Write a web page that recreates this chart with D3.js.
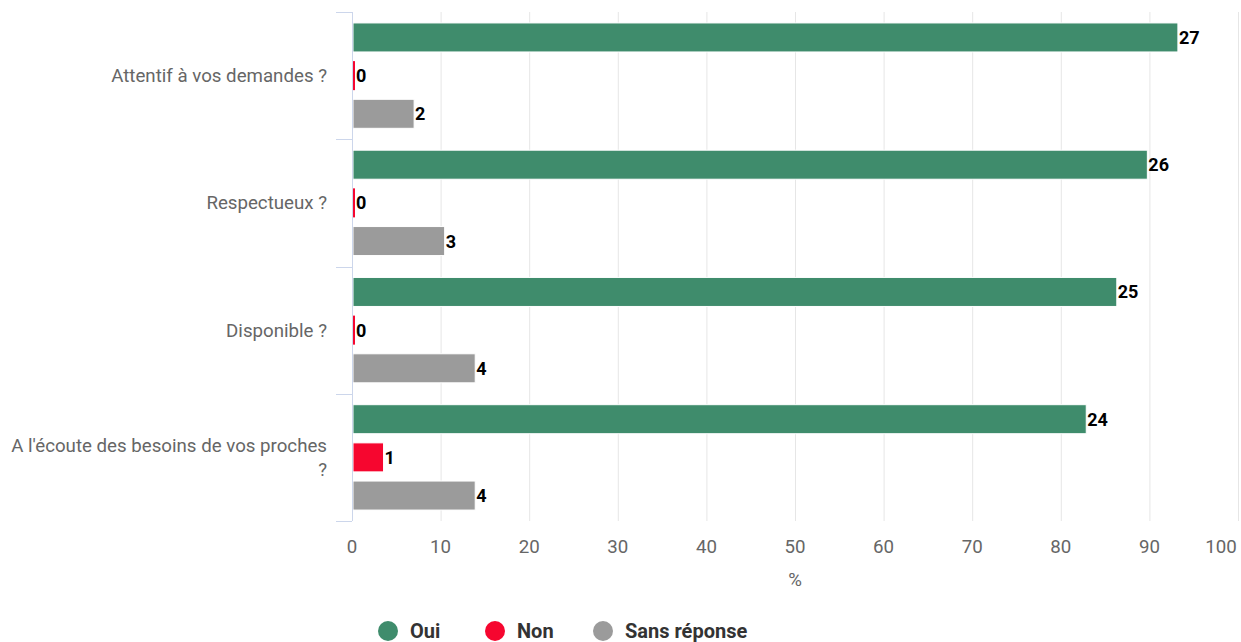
<!DOCTYPE html>
<html>
<head>
<meta charset="utf-8">
<script src="https://cdn.jsdelivr.net/npm/d3@7"></script>
<style>
  html, body { margin: 0; padding: 0; background: #fff; }
  svg { display: block; font-family: Roboto, "Noto Sans", sans-serif; }
</style>
</head>
<body>
<svg id="chart" width="1241" height="642"></svg>
<script>
// Survey answers (number of respondents) per question
const categories = [
  "Attentif à vos demandes ?",
  "Respectueux ?",
  "Disponible ?",
  "A l'écoute des besoins de vos proches ?"
];
const seriesNames = ["Oui", "Non", "Sans réponse"];
const seriesColors = ["#3f8c6c", "#f6062f", "#9b9b9b"];
const oui = [27, 26, 25, 24];
const non = [0, 0, 0, 1];
const sansReponse = [2, 3, 4, 4];
const xTicks = [0, 10, 20, 30, 40, 50, 60, 70, 80, 90, 100];

const seriesValues = [oui, non, sansReponse];

const svg = d3.select("#chart");
const plotLeft = 352, plotRight = 1238, plotTop = 12, plotBottom = 521;

const x = d3.scaleLinear().domain([0, 100]).range([plotLeft, plotRight]);
const y = d3.scaleBand().domain(categories).range([plotTop, plotBottom]).paddingInner(0).paddingOuter(0);
const slot = y.bandwidth() * 0.3;
const barH = slot * 0.76;
const groupOffset = (y.bandwidth() - 3 * slot) / 2;
const barY = si => groupOffset + si * slot + (slot - barH) / 2;

// Vertical grid lines
svg.append("g").selectAll("line").data(xTicks).join("line")
  .attr("x1", d => x(d) + 0.5).attr("x2", d => x(d) + 0.5)
  .attr("y1", plotTop).attr("y2", plotBottom)
  .attr("stroke", "#e6e6e6").attr("stroke-width", 1);

// Bars, sized as share of respondents
const groups = svg.append("g").selectAll("g").data(categories).join("g")
  .attr("transform", d => `translate(0,${y(d)})`);

groups.each(function(cat, ci) {
  const total = seriesValues.reduce((s, arr) => s + arr[ci], 0);
  const g = d3.select(this);
  const rows = seriesNames.map((name, si) => ({
    si, name, color: seriesColors[si], count: seriesValues[si][ci],
    pct: seriesValues[si][ci] / total * 100
  }));
  const barW = d => Math.max(x(d.pct) - x(0), 2);
  g.selectAll("rect").data(rows).join("rect")
    .attr("x", x(0) + 1)
    .attr("y", d => barY(d.si))
    .attr("width", barW)
    .attr("height", barH)
    .attr("fill", d => d.color)
    .attr("stroke", d => d.count > 0 ? "#fff" : "none")
    .attr("stroke-width", 1);
  g.selectAll("text").data(rows).join("text")
    .attr("x", d => x(0) + barW(d) + 2)
    .attr("y", d => barY(d.si) + barH / 2)
    .attr("dy", "0.36em")
    .attr("font-size", 18).attr("font-weight", 700).attr("fill", "#000")
    .text(d => d.count);
});

// Category axis line and ticks
svg.append("line")
  .attr("x1", plotLeft + 0.5).attr("x2", plotLeft + 0.5)
  .attr("y1", plotTop).attr("y2", plotBottom)
  .attr("stroke", "#ccd6eb");
const bounds = categories.map(c => y(c)).concat([plotBottom]);
svg.append("g").selectAll("line").data(bounds).join("line")
  .attr("x1", plotLeft - 16).attr("x2", plotLeft)
  .attr("y1", d => Math.round(d) + 0.5).attr("y2", d => Math.round(d) + 0.5)
  .attr("stroke", "#ccd6eb");

// Category labels, wrapped when too wide
const maxLabelWidth = 322;
svg.append("g").selectAll("text").data(categories).join("text")
  .attr("text-anchor", "end")
  .attr("font-size", 18.7).attr("fill", "#666")
  .each(function(d) {
    const t = d3.select(this);
    const cx = plotLeft - 25;
    const cy = y(d) + y.bandwidth() / 2;
    const words = d.split(" ");
    const lines = [];
    let line = [];
    const tmp = t.append("tspan");
    for (const w of words) {
      line.push(w);
      tmp.text(line.join(" "));
      if (tmp.node().getComputedTextLength() > maxLabelWidth && line.length > 1) {
        line.pop();
        lines.push(line.join(" "));
        line = [w];
      }
    }
    lines.push(line.join(" "));
    tmp.remove();
    const lh = 24;
    lines.forEach((l, i) => {
      t.append("tspan").attr("x", cx)
        .attr("y", cy + (i - (lines.length - 1) / 2) * lh)
        .attr("dy", "0.35em").text(l);
    });
  });

// Value axis labels
svg.append("g").selectAll("text").data(xTicks).join("text")
  .attr("x", d => d === 100 ? x(d) - 17 : x(d))
  .attr("y", 553)
  .attr("text-anchor", "middle")
  .attr("font-size", 18.7).attr("fill", "#666")
  .text(d => d);

svg.append("text")
  .attr("x", (plotLeft + plotRight) / 2).attr("y", 586)
  .attr("text-anchor", "middle")
  .attr("font-size", 18.7).attr("fill", "#666")
  .text("%");

// Legend
const legendX = [388, 495, 603];
const legend = svg.append("g").selectAll("g").data(seriesNames).join("g")
  .attr("transform", (d, i) => `translate(${legendX[i]},631)`);
legend.append("circle").attr("r", 10).attr("fill", (d, i) => seriesColors[i]);
legend.append("text")
  .attr("x", 22).attr("dy", "0.36em")
  .attr("font-size", 20).attr("font-weight", 700).attr("fill", "#333")
  .text(d => d);
</script>
</body>
</html>
